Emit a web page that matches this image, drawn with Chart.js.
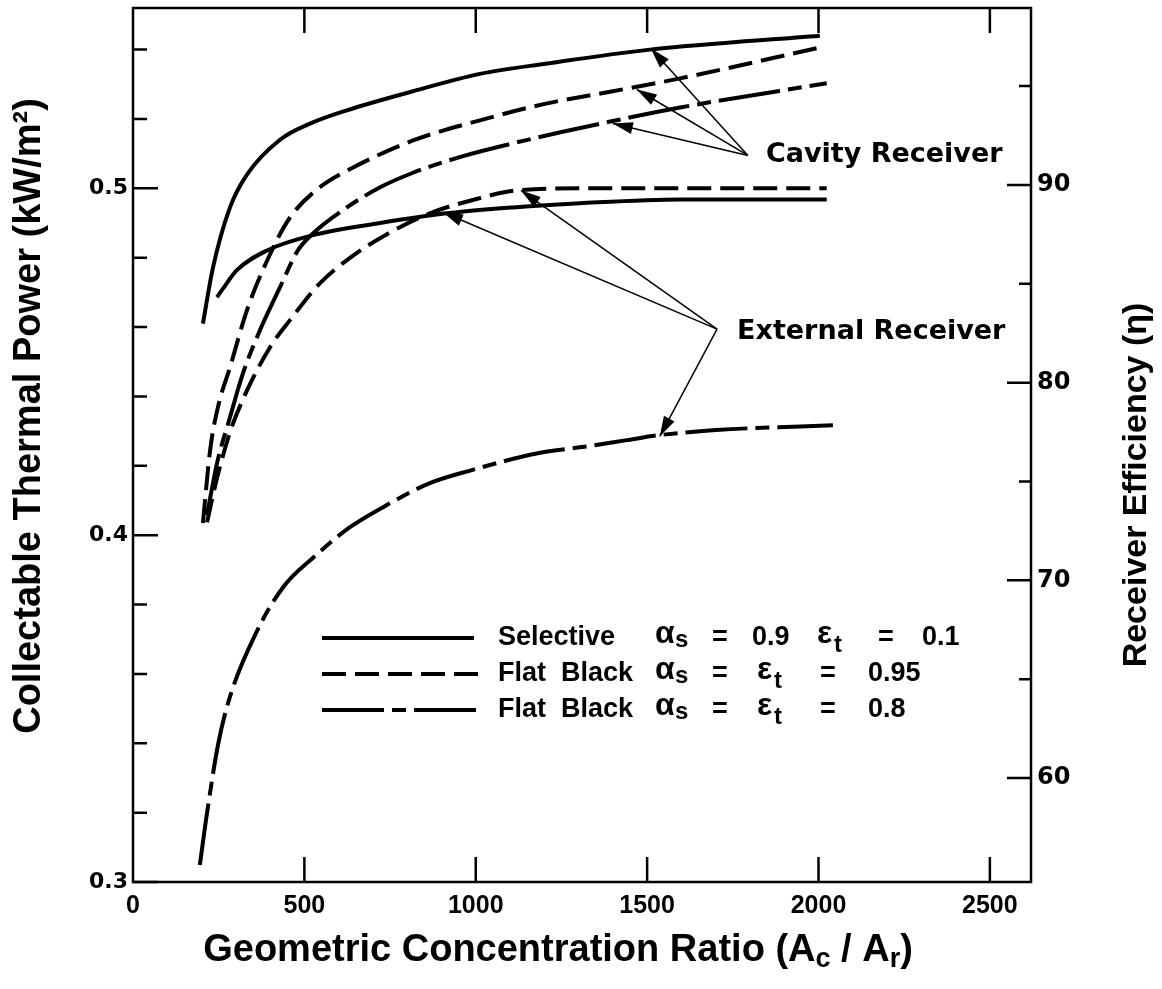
<!DOCTYPE html>
<html>
<head>
<meta charset="utf-8">
<script src="https://cdn.jsdelivr.net/npm/chart.js@4.4.1/dist/chart.umd.min.js"></script>
<style>
    html, body { margin: 0; padding: 0; background: #fff; }
    #wrap { width: 1162px; height: 989px; }
</style>
</head>
<body>
<div id="wrap"><canvas id="chart" width="1162" height="989"></canvas></div>
<script>
// --- Values (x = Ac/Ar, y = kW/m2) ---
const selCavX = [204, 233, 283, 333, 429, 525, 624, 817, 1012, 1208, 1508, 2004];
const selCavY = [0.461, 0.477, 0.4945, 0.504, 0.514, 0.519, 0.5225, 0.528, 0.533, 0.536, 0.540, 0.544];

const selExtX = [245, 262, 303, 391, 525, 721, 916, 1109, 1304, 1596, 2024];
const selExtY = [0.4686, 0.471, 0.4764, 0.4821, 0.4865, 0.490, 0.4928, 0.4945, 0.4957, 0.4968, 0.4968];

const fb95CavX = [204, 225, 248, 283, 333, 400, 458, 545, 642, 817, 1012, 1208, 1400, 1596, 2004];
const fb95CavY = [0.4035, 0.4245, 0.437, 0.4484, 0.465, 0.481, 0.4916, 0.5003, 0.506, 0.5138, 0.5196, 0.5245, 0.528, 0.5317, 0.5406];

const fb80CavX = [216, 245, 283, 321, 370, 429, 481, 525, 624, 721, 817, 963, 1109, 1254, 1400, 1596, 2024];
const fb80CavY = [0.4058, 0.4207, 0.434, 0.4467, 0.459, 0.4715, 0.4821, 0.487, 0.4945, 0.5003, 0.5045, 0.5093, 0.513, 0.5163, 0.5194, 0.5233, 0.5303];

const fb95ExtX = [216, 245, 283, 333, 400, 458, 545, 642, 741, 866, 1012, 1109, 1304, 1596, 2024];
const fb95ExtY = [0.4037, 0.4164, 0.4297, 0.4418, 0.4542, 0.462, 0.4726, 0.4806, 0.4868, 0.4928, 0.4972, 0.4993, 0.500, 0.500, 0.500];

const fb80ExtX = [195, 216, 248, 280, 359, 438, 528, 633, 750, 866, 986, 1181, 1310, 1441, 1532, 1701, 2042];
const fb80ExtY = [0.3049, 0.3199, 0.3395, 0.3525, 0.3718, 0.385, 0.3937, 0.4023, 0.4092, 0.415, 0.4187, 0.4236, 0.4254, 0.4274, 0.4288, 0.4303, 0.4317];

// tick positions and which of them carry a label
const xTickValues = [0, 500, 1000, 1500, 2000, 2500];
const yTickValues = [0.30, 0.32, 0.34, 0.36, 0.38, 0.40, 0.42, 0.44, 0.46, 0.48, 0.50, 0.52, 0.54];
const yLabelled = [0.3, 0.4, 0.5];
const y2TickValues = [60, 65, 70, 75, 80, 85, 90, 95];
const y2Labelled = [60, 70, 80, 90];

// annotation anchors, in data units [x, y]
const cavityOrigin = [1794, 0.5095];
const cavityTargets = [[1511, 0.5403], [1470, 0.5285], [1400, 0.5187]];
const externalOrigin = [1704, 0.4594];
const externalTargets = [[1132, 0.4994], [904, 0.4931], [1537, 0.4285]];

// --- Styles ---
const DASH_SEL = [];
const DASH_95 = [24, 9];
const DASH_80 = [62, 8, 14, 8];
const INK = '#000';

const toPoints = (xs, ys) => xs.map((x, i) => ({ x: x, y: ys[i] }));
const isIn = (list, v) => list.some(l => Math.abs(l - v) < 1e-6);

function curve(label, xs, ys, dash) {
    return {
        label: label,
        data: toPoints(xs, ys),
        borderColor: INK,
        borderWidth: 4,
        borderDash: dash,
        borderCapStyle: 'butt',
        pointRadius: 0,
        fill: false,
        cubicInterpolationMode: 'monotone',
        yAxisID: 'y',
    };
}

// --- Helpers for the overlay ---
function drawPieces(ctx, pieces, x, y) {
    let cx = x;
    pieces.forEach(([t, font, dy]) => {
        ctx.font = font;
        ctx.fillText(t, cx, y + dy);
        cx += ctx.measureText(t).width;
    });
}
function piecesWidth(ctx, pieces) {
    let w = 0;
    pieces.forEach(([t, font]) => { ctx.font = font; w += ctx.measureText(t).width; });
    return w;
}
function arrow(ctx, x0, y0, x1, y1) {
    ctx.beginPath();
    ctx.moveTo(x0, y0);
    ctx.lineTo(x1, y1);
    ctx.stroke();
    const ang = Math.atan2(y1 - y0, x1 - x0);
    const L = 20, W = 6;
    const bx = x1 - L * Math.cos(ang), by = y1 - L * Math.sin(ang);
    ctx.beginPath();
    ctx.moveTo(x1, y1);
    ctx.lineTo(bx + W * Math.sin(ang), by - W * Math.cos(ang));
    ctx.lineTo(bx - W * Math.sin(ang), by + W * Math.cos(ang));
    ctx.closePath();
    ctx.fill();
}
// keep the plot frame exactly where the figure has it
function noPad(s) {
    s.paddingTop = 0; s.paddingBottom = 0; s.paddingLeft = 0; s.paddingRight = 0;
}
const setTicks = values => s => { s.ticks = values.map(v => ({ value: v })); };

const LEGEND_FONT = 'bold 27px "Liberation Sans", Arial, sans-serif';
const GREEK_FONT = 'bold 32px "Liberation Sans", Arial, sans-serif';
const SUB_FONT = 'bold 24px "Liberation Sans", Arial, sans-serif';
const legendRows = [
    { label: 'Selective', dash: DASH_SEL, y: 638, lineEnd: 474,
      parts: [['α', 655, -4, GREEK_FONT], ['s', 675, 2, SUB_FONT], ['=', 712, 0], ['0.9', 752, 0],
              ['ε', 817, -4, GREEK_FONT], ['t', 834, 7, SUB_FONT], ['=', 878, 0], ['0.1', 922, 0]] },
    { label: 'Flat  Black', dash: DASH_95, y: 674, lineEnd: 484,
      parts: [['α', 655, -4, GREEK_FONT], ['s', 675, 2, SUB_FONT], ['=', 712, 0],
              ['ε', 757, -4, GREEK_FONT], ['t', 774, 7, SUB_FONT], ['=', 820, 0], ['0.95', 868, 0]] },
    { label: 'Flat  Black', dash: DASH_80, y: 710, lineEnd: 484,
      parts: [['α', 655, -4, GREEK_FONT], ['s', 675, 2, SUB_FONT], ['=', 712, 0],
              ['ε', 757, -4, GREEK_FONT], ['t', 774, 7, SUB_FONT], ['=', 820, 0], ['0.8', 868, 0]] },
];

const overlayPlugin = {
    id: 'overlay',
    afterDraw(chart) {
        const { ctx, chartArea: a } = chart;
        const { x, y, y2 } = chart.scales;
        ctx.save();
        ctx.strokeStyle = INK;
        ctx.fillStyle = INK;

        // frame
        ctx.lineWidth = 2.5;
        ctx.setLineDash([]);
        ctx.strokeRect(a.left, a.top, a.right - a.left, a.bottom - a.top);

        // inward tick marks
        ctx.beginPath();
        x.ticks.forEach(t => {
            if (t.value <= 0) return;
            const px = x.getPixelForValue(t.value);
            ctx.moveTo(px, a.bottom); ctx.lineTo(px, a.bottom - 25);
            ctx.moveTo(px, a.top); ctx.lineTo(px, a.top + 25);
        });
        y.ticks.forEach(t => {
            const py = y.getPixelForValue(t.value);
            ctx.moveTo(a.left, py); ctx.lineTo(a.left + (isIn(yLabelled, t.value) ? 25 : 14), py);
        });
        y2.ticks.forEach(t => {
            const py = y2.getPixelForValue(t.value);
            ctx.moveTo(a.right, py); ctx.lineTo(a.right - (isIn(y2Labelled, t.value) ? 24 : 12), py);
        });
        ctx.stroke();

        // axis titles
        ctx.textBaseline = 'middle';
        ctx.textAlign = 'center';
        ctx.save();
        ctx.translate(30, 416);
        ctx.rotate(-Math.PI / 2);
        ctx.font = 'bold 38px "Liberation Sans", Arial, sans-serif';
        ctx.fillText('Collectable Thermal Power (kW/m²)', 0, 0);
        ctx.restore();

        ctx.save();
        ctx.translate(1137, 485);
        ctx.rotate(-Math.PI / 2);
        ctx.font = 'bold 34px "Liberation Sans", Arial, sans-serif';
        ctx.fillText('Receiver Efficiency (η)', 0, 0);
        ctx.restore();

        ctx.textAlign = 'left';
        const tf = 'bold 38px "Liberation Sans", Arial, sans-serif';
        const sf = 'bold 27px "Liberation Sans", Arial, sans-serif';
        const xt = [['Geometric Concentration Ratio (A', tf, 0], ['c', sf, 9], [' / A', tf, 0], ['r', sf, 9], [')', tf, 0]];
        drawPieces(ctx, xt, 558 - piecesWidth(ctx, xt) / 2, 951);

        // legend
        legendRows.forEach(r => {
            ctx.lineWidth = 4;
            ctx.setLineDash(r.dash);
            ctx.beginPath();
            ctx.moveTo(322, r.y);
            ctx.lineTo(r.lineEnd, r.y);
            ctx.stroke();
            ctx.setLineDash([]);
            ctx.font = LEGEND_FONT;
            ctx.fillText(r.label, 498, r.y);
            r.parts.forEach(([t, px, dy, f]) => {
                ctx.font = f || LEGEND_FONT;
                ctx.fillText(t, px, r.y + dy);
            });
        });

        // annotations
        ctx.lineWidth = 1.5;
        const px = p => [x.getPixelForValue(p[0]), y.getPixelForValue(p[1])];
        const co = px(cavityOrigin);
        cavityTargets.forEach(t => { const q = px(t); arrow(ctx, co[0], co[1], q[0], q[1]); });
        const eo = px(externalOrigin);
        externalTargets.forEach(t => { const q = px(t); arrow(ctx, eo[0], eo[1], q[0], q[1]); });

        ctx.font = 'bold 27px "DejaVu Sans", sans-serif';
        ctx.fillText('Cavity Receiver', co[0] + 18, co[1]);
        ctx.fillText('External Receiver', eo[0] + 20, eo[1] + 3);
        ctx.restore();
    }
};

new Chart(document.getElementById('chart'), {
    type: 'line',
    data: {
        datasets: [
            curve('Selective cavity', selCavX, selCavY, DASH_SEL),
            curve('Selective external', selExtX, selExtY, DASH_SEL),
            curve('Flat black 0.95 cavity', fb95CavX, fb95CavY, DASH_95),
            curve('Flat black 0.95 external', fb95ExtX, fb95ExtY, DASH_95),
            curve('Flat black 0.8 cavity', fb80CavX, fb80CavY, DASH_80),
            curve('Flat black 0.8 external', fb80ExtX, fb80ExtY, DASH_80),
        ]
    },
    options: {
        responsive: false,
        animation: false,
        layout: { padding: { top: 8, left: 0, right: 0, bottom: 0 } },
        plugins: { legend: { display: false }, tooltip: { enabled: false } },
        scales: {
            x: {
                type: 'linear',
                min: 0,
                max: 2620,
                grid: { display: false, drawTicks: false },
                border: { display: false },
                afterBuildTicks: setTicks(xTickValues),
                ticks: {
                    autoSkip: false,
                    padding: 9,
                    color: INK,
                    font: { family: '"Liberation Sans", Arial, sans-serif', size: 25, weight: 'bold' },
                    maxRotation: 0,
                    callback: v => String(Math.round(v)),
                },
                afterFit: s => { s.height = 107; noPad(s); },
            },
            y: {
                type: 'linear',
                position: 'left',
                min: 0.3,
                max: 0.552,
                grid: { display: false, drawTicks: false },
                border: { display: false },
                afterBuildTicks: setTicks(yTickValues),
                ticks: {
                    autoSkip: false,
                    padding: 5,
                    color: INK,
                    font: { family: '"DejaVu Sans", sans-serif', size: 22, weight: 'bold' },
                    callback: v => isIn(yLabelled, v) ? v.toFixed(1) : '',
                },
                afterFit: s => { s.width = 133; noPad(s); },
            },
            y2: {
                type: 'linear',
                position: 'right',
                min: 54.74,
                max: 98.95,
                grid: { display: false, drawTicks: false },
                border: { display: false },
                afterBuildTicks: setTicks(y2TickValues),
                ticks: {
                    autoSkip: false,
                    padding: 6,
                    color: INK,
                    font: { family: '"DejaVu Sans", sans-serif', size: 24, weight: 'bold' },
                    callback: v => isIn(y2Labelled, v) ? String(Math.round(v)) : '',
                },
                afterFit: s => { s.width = 131; noPad(s); },
            },
        },
    },
    plugins: [overlayPlugin],
});
</script>
</body>
</html>
